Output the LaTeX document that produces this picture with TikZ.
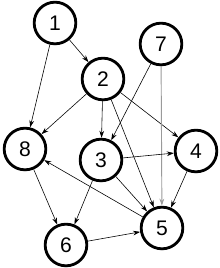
\documentclass[tikz,border=0pt]{standalone}
\usepackage{fontspec}
\setmainfont{Liberation Sans}
\usetikzlibrary{arrows.meta}
\definecolor{edgegray}{HTML}{9A9A9A}

\begin{document}
\begin{tikzpicture}[x=0.03cm, y=-0.03cm,
                vertex/.style={circle, draw, line width=2.4pt, fill=white, minimum size=1.25cm, inner sep=0pt, font=\fontsize{18}{20}\selectfont},
                arrow/.style={-{Stealth[length=6pt, width=4pt]}, line width=0.5pt}]
                \useasboundingbox (0,0) rectangle (220,268);
                % vertices
                \node[vertex] (v1) at (55,23) {1};
                \node[vertex] (v2) at (103,79) {2};
                \node[vertex] (v7) at (161,44) {7};
                \node[vertex] (v8) at (25,149) {8};
                \node[vertex] (v3) at (101,160) {3};
                \node[vertex] (v4) at (196,151) {4};
                \node[vertex] (v5) at (162,228) {5};
                \node[vertex] (v6) at (66,245) {6};
                
                % edges
                \draw[arrow] (v1) -- (v2);
                \draw[arrow] (v1) -- (v8);
                \draw[arrow] (v2) -- (v8);
                \draw[arrow] (v2) -- (v3);
                \draw[arrow] (v2) -- (v4);
                \draw[arrow] (v2) -- (v5);
                \draw[arrow] (v7) -- (v3);
                \draw[arrow, color=edgegray, line width=0.8pt] (v7) -- (v5);
                \draw[arrow] (v8) -- (v6);
                \draw[arrow] (v3) -- (v6);
                \draw[arrow] (v3) -- (v4);
                \draw[arrow] (v3) -- (v5);
                \draw[arrow] (v4) -- (v5);
                \draw[arrow] (v5) -- (v8);
                \draw[arrow] (v6) -- (v5);
            \end{tikzpicture}
\end{document}
